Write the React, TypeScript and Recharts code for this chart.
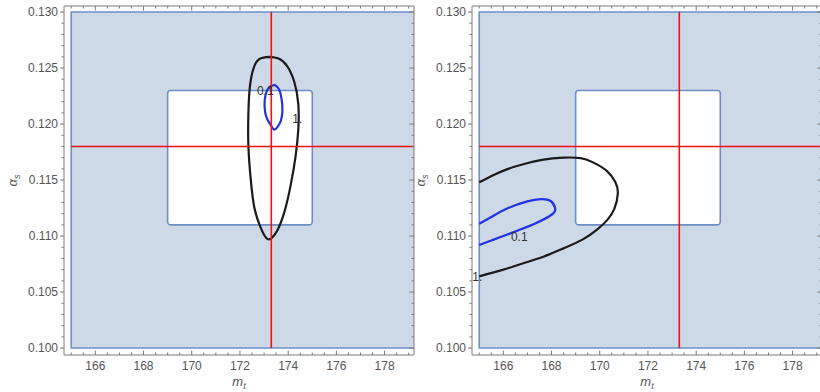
import React from 'react';
import { ComposedChart, XAxis, YAxis, Line, ReferenceArea, ReferenceDot } from 'recharts';

// ---------- axis ticks ----------
const xMajorTicks = [166, 168, 170, 172, 174, 176, 178];
const xTickLabels = ['166', '168', '170', '172', '174', '176', '178'];
const xAllTicks = [165, 165.5, 166, 166.5, 167, 167.5, 168, 168.5, 169, 169.5, 170, 170.5, 171, 171.5, 172, 172.5, 173, 173.5, 174, 174.5, 175, 175.5, 176, 176.5, 177, 177.5, 178, 178.5, 179];
const yMajorTicks = [0.1, 0.105, 0.11, 0.115, 0.12, 0.125, 0.13];
const yTickLabels = ['0.100', '0.105', '0.110', '0.115', '0.120', '0.125', '0.130'];
const yAllTicks = [0.1, 0.101, 0.102, 0.103, 0.104, 0.105, 0.106, 0.107, 0.108, 0.109, 0.11, 0.111, 0.112, 0.113, 0.114, 0.115, 0.116, 0.117, 0.118, 0.119, 0.12, 0.121, 0.122, 0.123, 0.124, 0.125, 0.126, 0.127, 0.128, 0.129, 0.13];

const xDomain = [164.7, 179.22];
const yDomain = [0.09938, 0.13054];

// ---------- regions & reference values ----------
const outerRegion = { x1: 165, x2: 181, y1: 0.1, y2: 0.13 };
const innerRegion = { x1: 169, x2: 175, y1: 0.111, y2: 0.123 };
const mtRef = 173.3;
const alphaRef = 0.118;
const vRefLine = [{ x: mtRef, y: 0.1 }, { x: mtRef, y: 0.13 }];
const hRefLine = [{ x: 165, y: alphaRef }, { x: 179.22, y: alphaRef }];

// ---------- contours, left panel ----------
const leftContour1 = [
  { x: 173.2, y: 0.126 },
  { x: 173.6, y: 0.12585 },
  { x: 173.95, y: 0.1252 },
  { x: 174.25, y: 0.1238 },
  { x: 174.42, y: 0.1218 },
  { x: 174.42, y: 0.1195 },
  { x: 174.3, y: 0.117 },
  { x: 174.1, y: 0.1145 },
  { x: 173.85, y: 0.1122 },
  { x: 173.55, y: 0.1105 },
  { x: 173.3, y: 0.1098 },
  { x: 173.1, y: 0.1098 },
  { x: 172.85, y: 0.1108 },
  { x: 172.6, y: 0.1125 },
  { x: 172.45, y: 0.115 },
  { x: 172.35, y: 0.118 },
  { x: 172.35, y: 0.121 },
  { x: 172.42, y: 0.1235 },
  { x: 172.6, y: 0.1252 },
  { x: 172.85, y: 0.12585 },
  { x: 173.2, y: 0.126 },
];
const leftContour01 = [
  { x: 173.45, y: 0.1235 },
  { x: 173.62, y: 0.1231 },
  { x: 173.73, y: 0.1222 },
  { x: 173.76, y: 0.1212 },
  { x: 173.7, y: 0.1203 },
  { x: 173.56, y: 0.11975 },
  { x: 173.42, y: 0.1195 },
  { x: 173.28, y: 0.1199 },
  { x: 173.1, y: 0.1206 },
  { x: 173.02, y: 0.1216 },
  { x: 173.06, y: 0.1226 },
  { x: 173.22, y: 0.1233 },
  { x: 173.45, y: 0.1235 },
];
const leftLabels = [
  { x: 173.05, y: 0.123, text: '0.1' },
  { x: 174.38, y: 0.1205, text: '1.' },
];

// ---------- contours, right panel ----------
const rightContour1 = [
  { x: 165.0, y: 0.1148 },
  { x: 165.6, y: 0.11545 },
  { x: 166.2, y: 0.116 },
  { x: 166.9, y: 0.11645 },
  { x: 167.6, y: 0.1168 },
  { x: 168.5, y: 0.117 },
  { x: 169.2, y: 0.11695 },
  { x: 169.7, y: 0.1166 },
  { x: 170.3, y: 0.1158 },
  { x: 170.65, y: 0.1148 },
  { x: 170.75, y: 0.1138 },
  { x: 170.6, y: 0.1124 },
  { x: 170.3, y: 0.1114 },
  { x: 169.9, y: 0.1106 },
  { x: 169.3, y: 0.1097 },
  { x: 168.5, y: 0.1089 },
  { x: 167.6, y: 0.1081 },
  { x: 166.8, y: 0.10755 },
  { x: 166.0, y: 0.107 },
  { x: 165.0, y: 0.1064 },
];
const rightContour01 = [
  { x: 165.0, y: 0.1111 },
  { x: 165.5, y: 0.1117 },
  { x: 166.2, y: 0.1125 },
  { x: 167.0, y: 0.1131 },
  { x: 167.55, y: 0.1133 },
  { x: 167.95, y: 0.11315 },
  { x: 168.15, y: 0.1125 },
  { x: 168.0, y: 0.1119 },
  { x: 167.3, y: 0.1111 },
  { x: 166.6, y: 0.1105 },
  { x: 166.0, y: 0.11 },
  { x: 165.5, y: 0.1096 },
  { x: 165.0, y: 0.1092 },
];
const rightLabels = [
  { x: 166.66, y: 0.1099, text: '0.1' },
  { x: 164.92, y: 0.1064, text: '1.' },
];

// ---------- styles ----------
const FONT = '"Liberation Sans", Arial, Helvetica, sans-serif';
const AXIS_COLOR = '#7a7a7a';
const LABEL_COLOR = '#555555';
const REGION_FILL = '#cdd9e6';
const REGION_STROKE = '#6e8fc6';
const RED = '#f51010';
const BLACK = '#1a1a1a';
const BLUE = '#2230e6';

const idx = (arr: number[], v: number) => arr.findIndex((m) => Math.abs(m - v) < 1e-9);

function XBottomTick(props: any) {
  const { x, y, payload } = props;
  const i = idx(xMajorTicks, payload.value);
  const len = i >= 0 ? 4.5 : 2.5;
  return (
    <g>
      <line x1={x} x2={x} y1={y} y2={y - len} stroke={AXIS_COLOR} strokeWidth={1} />
      {i >= 0 && (
        <text x={x} y={y + 15} textAnchor="middle" fill={LABEL_COLOR} fontSize={12} fontFamily={FONT}>
          {xTickLabels[i]}
        </text>
      )}
    </g>
  );
}

function XTopTick(props: any) {
  const { x, y, payload } = props;
  const i = idx(xMajorTicks, payload.value);
  const len = i >= 0 ? 4.5 : 2.5;
  return <line x1={x} x2={x} y1={y} y2={y + len} stroke={AXIS_COLOR} strokeWidth={1} />;
}

function YLeftTick(props: any) {
  const { x, y, payload } = props;
  const i = idx(yMajorTicks, payload.value);
  const len = i >= 0 ? 4 : 2.5;
  return (
    <g>
      <line x1={x} x2={x - len} y1={y} y2={y} stroke={AXIS_COLOR} strokeWidth={1} />
      {i >= 0 && (
        <text x={x - 6} y={y + 4.2} textAnchor="end" fill={LABEL_COLOR} fontSize={12} fontFamily={FONT}>
          {yTickLabels[i]}
        </text>
      )}
    </g>
  );
}

function YRightTick(props: any) {
  const { x, y, payload } = props;
  const i = idx(yMajorTicks, payload.value);
  const len = i >= 0 ? 4.5 : 2.5;
  return <line x1={x} x2={x - len} y1={y} y2={y} stroke={AXIS_COLOR} strokeWidth={1} />;
}

function XTitle(props: any) {
  const vb = props.viewBox || { x: 0, y: 0, width: 0 };
  const cx = vb.x + vb.width / 2;
  const cy = vb.y + 31;
  return (
    <text x={cx} y={cy} textAnchor="middle" fill={LABEL_COLOR} fontFamily={FONT} fontStyle="italic" fontSize={13}>
      m<tspan fontSize={9} dy={2.5}>t</tspan>
    </text>
  );
}

function YTitle(props: any) {
  const vb = props.viewBox || { x: 0, y: 0, width: 0, height: 0 };
  const cx = vb.x + vb.width - 47;
  const cy = vb.y + vb.height / 2;
  return (
    <text
      x={cx}
      y={cy}
      transform={`rotate(-90, ${cx}, ${cy})`}
      textAnchor="middle"
      fill={LABEL_COLOR}
      fontFamily={FONT}
      fontStyle="italic"
      fontSize={13}
    >
      α<tspan fontSize={9} dy={2.5}>s</tspan>
    </text>
  );
}

type Pt = { x: number; y: number };
type Lbl = { x: number; y: number; text: string };

function Panel({ contour1, contour01, labels }: { contour1: Pt[]; contour01: Pt[]; labels: Lbl[] }) {
  return (
    <ComposedChart width={420} height={392} margin={{ top: 5, right: 5, bottom: 0, left: 0 }}>
      <XAxis
        type="number"
        dataKey="x"
        domain={xDomain}
        allowDataOverflow
        ticks={xAllTicks}
        interval={0}
        height={37}
        tickSize={0}
        tickMargin={0}
        tickLine={false}
        axisLine={{ stroke: AXIS_COLOR, strokeWidth: 1 }}
        tick={(p: any) => <XBottomTick {...p} />}
        label={<XTitle />}
      />
      <XAxis
        xAxisId="top"
        orientation="top"
        type="number"
        dataKey="x"
        domain={xDomain}
        allowDataOverflow
        ticks={xAllTicks}
        interval={0}
        height={1}
        tickSize={0}
        tickMargin={0}
        tickLine={false}
        axisLine={{ stroke: AXIS_COLOR, strokeWidth: 1 }}
        tick={(p: any) => <XTopTick {...p} />}
      />
      <YAxis
        type="number"
        dataKey="y"
        domain={yDomain}
        allowDataOverflow
        ticks={yAllTicks}
        interval={0}
        width={64}
        tickSize={0}
        tickMargin={0}
        tickLine={false}
        axisLine={{ stroke: AXIS_COLOR, strokeWidth: 1 }}
        tick={(p: any) => <YLeftTick {...p} />}
        label={<YTitle />}
      />
      <YAxis
        yAxisId="right"
        orientation="right"
        type="number"
        dataKey="y"
        domain={yDomain}
        allowDataOverflow
        ticks={yAllTicks}
        interval={0}
        width={1}
        tickSize={0}
        tickMargin={0}
        tickLine={false}
        axisLine={{ stroke: AXIS_COLOR, strokeWidth: 1 }}
        tick={(p: any) => <YRightTick {...p} />}
      />
      <ReferenceArea
        x1={outerRegion.x1}
        x2={outerRegion.x2}
        y1={outerRegion.y1}
        y2={outerRegion.y2}
        ifOverflow="hidden"
        fill={REGION_FILL}
        fillOpacity={1}
        stroke={REGION_STROKE}
        strokeWidth={1.6}
      />
      <ReferenceArea
        x1={innerRegion.x1}
        x2={innerRegion.x2}
        y1={innerRegion.y1}
        y2={innerRegion.y2}
        ifOverflow="hidden"
        fill="#ffffff"
        fillOpacity={1}
        stroke={REGION_STROKE}
        strokeWidth={1.6}
        radius={3}
      />
      <Line data={contour1} dataKey="y" type="natural" stroke={BLACK} strokeWidth={2.2} dot={false} activeDot={false} isAnimationActive={false} />
      <Line data={contour01} dataKey="y" type="natural" stroke={BLUE} strokeWidth={2.2} dot={false} activeDot={false} isAnimationActive={false} />
      <Line data={vRefLine} dataKey="y" type="linear" stroke={RED} strokeWidth={1.6} dot={false} activeDot={false} isAnimationActive={false} />
      <Line data={hRefLine} dataKey="y" type="linear" stroke={RED} strokeWidth={1.6} dot={false} activeDot={false} isAnimationActive={false} />
      {labels.map((l, k) => (
        <ReferenceDot
          key={k}
          x={l.x}
          y={l.y}
          r={0}
          fill="none"
          stroke="none"
          ifOverflow="visible"
          label={{ value: l.text, position: 'center', fill: '#333333', fontSize: 12, fontFamily: FONT }}
        />
      ))}
    </ComposedChart>
  );
}

export default function App() {
  return (
    <div
      style={{
        position: 'absolute',
        left: 0,
        top: 0,
        width: 820,
        height: 392,
        overflow: 'hidden',
        background: '#ffffff',
      }}
    >
      <div style={{ position: 'absolute', left: 0, top: 0 }}>
        <Panel contour1={leftContour1} contour01={leftContour01} labels={leftLabels} />
      </div>
      <div style={{ position: 'absolute', left: 408, top: 0 }}>
        <Panel contour1={rightContour1} contour01={rightContour01} labels={rightLabels} />
      </div>
    </div>
  );
}
